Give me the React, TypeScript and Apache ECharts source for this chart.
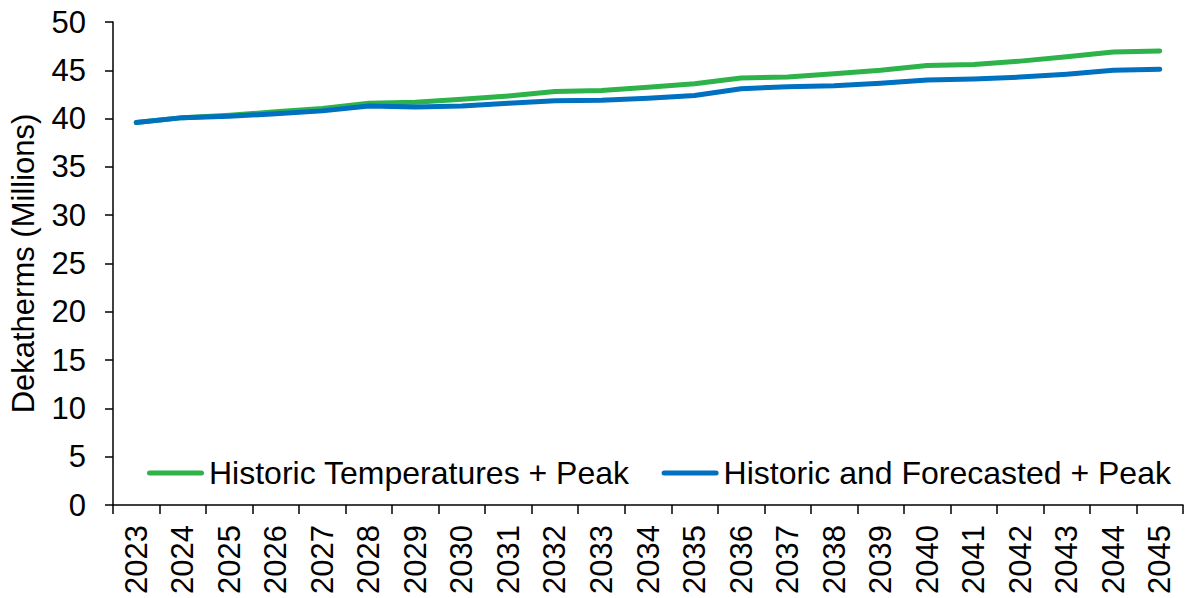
import React, { useEffect, useRef } from "react";
import * as echarts from "echarts";

const years = ["2023","2024","2025","2026","2027","2028","2029","2030","2031","2032","2033","2034","2035","2036","2037","2038","2039","2040","2041","2042","2043","2044","2045"];
const historicTemps = [39.6, 40.1, 40.35, 40.7, 41.05, 41.6, 41.7, 42.0, 42.35, 42.8, 42.9, 43.25, 43.6, 44.2, 44.3, 44.65, 45.0, 45.5, 45.6, 45.95, 46.4, 46.9, 47.0];
const historicForecast = [39.6, 40.1, 40.25, 40.5, 40.8, 41.3, 41.2, 41.3, 41.6, 41.85, 41.9, 42.1, 42.4, 43.1, 43.3, 43.4, 43.65, 44.0, 44.1, 44.3, 44.6, 45.0, 45.1];
const seriesNames = ["Historic Temperatures + Peak", "Historic and Forecasted + Peak"];
const yAxisName = "Dekatherms (Millions)";

const FONT = "Liberation Sans, Arial, sans-serif";
const LEGEND_ICON = "path://M2.5,0 L54.5,0 A2.5,2.5 0 0 1 54.5,5 L2.5,5 A2.5,2.5 0 0 1 2.5,0 Z";

export default function App() {
  const ref = useRef<HTMLDivElement>(null);
  useEffect(() => {
    if (!ref.current) return;
    const chart = echarts.init(ref.current, null, { renderer: "svg" });
    chart.setOption({
      animation: false,
      backgroundColor: "#ffffff",
      textStyle: { fontFamily: FONT },
      grid: { left: 113, right: 3, top: 22, bottom: 93, containLabel: false, outerBoundsMode: "none" },
      legend: {
        left: 147,
        top: 457,
        padding: 0,
        itemWidth: 57,
        itemHeight: 5,
        itemGap: 32,
        icon: LEGEND_ICON,
        textStyle: { fontSize: 32, color: "#000", fontFamily: FONT },
        data: seriesNames,
      },
      xAxis: {
        type: "category",
        data: years,
        boundaryGap: true,
        axisLine: { lineStyle: { color: "#000", width: 1.5 } },
        axisTick: { show: true, length: 9, lineStyle: { color: "#000", width: 1.5 }, alignWithLabel: false },
        axisLabel: { rotate: 90, fontSize: 31, color: "#000", fontFamily: FONT, margin: 20, interval: 0 },
        splitLine: { show: false },
      },
      yAxis: {
        type: "value",
        min: 0,
        max: 50,
        interval: 5,
        name: yAxisName,
        nameLocation: "middle",
        nameGap: 74,
        nameTextStyle: { fontSize: 31, color: "#000", fontFamily: FONT },
        axisLine: { show: true, lineStyle: { color: "#000", width: 1.5 } },
        axisTick: { show: true, length: 8, lineStyle: { color: "#000", width: 1.5 } },
        axisLabel: { fontSize: 31, color: "#000", fontFamily: FONT, margin: 27 },
        splitLine: { show: false },
      },
      series: [
        {
          name: seriesNames[0],
          type: "line",
          data: historicTemps,
          symbol: "none",
          lineStyle: { color: "#2db34a", width: 5, cap: "round", join: "round" },
          itemStyle: { color: "#2db34a" },
          z: 2,
        },
        {
          name: seriesNames[1],
          type: "line",
          data: historicForecast,
          symbol: "none",
          lineStyle: { color: "#0070c0", width: 5, cap: "round", join: "round" },
          itemStyle: { color: "#0070c0" },
          z: 3,
        },
      ],
    });
    return () => chart.dispose();
  }, []);
  return <div ref={ref} style={{ width: 1186, height: 598, position: "absolute", left: 0, top: 0 }} />;
}
